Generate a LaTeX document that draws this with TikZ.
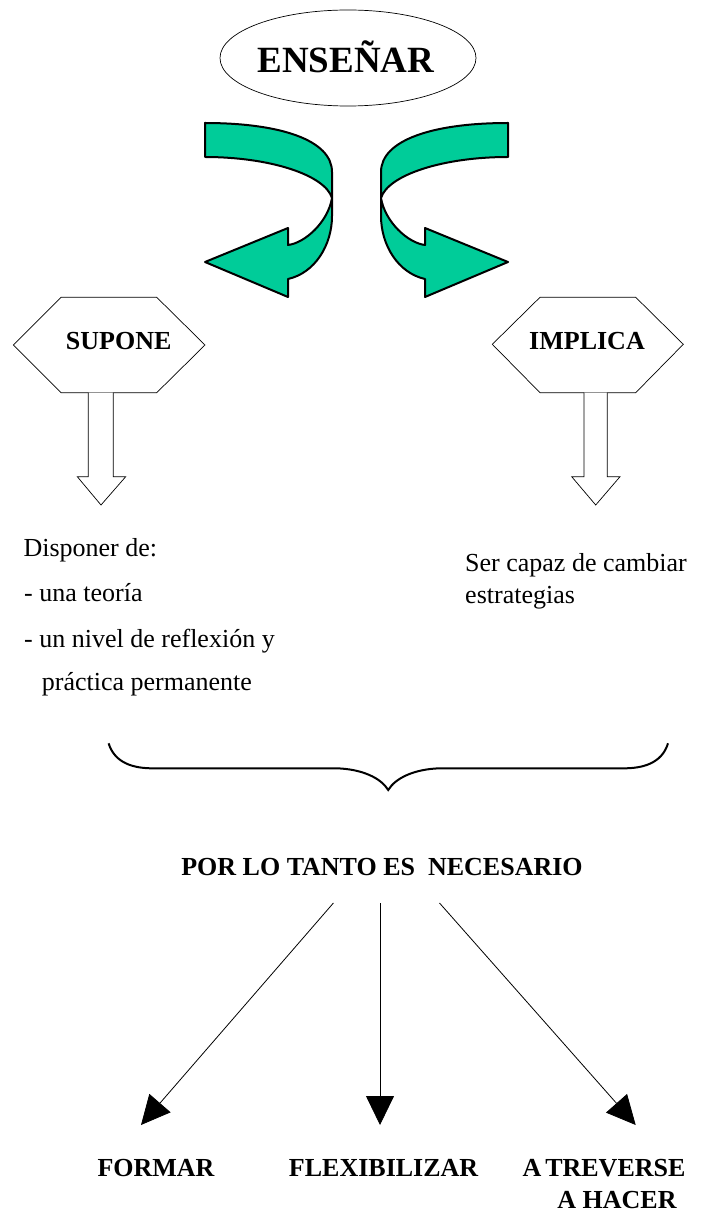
\documentclass[tikz,border=0pt]{standalone}
\usepackage{fontspec}
\setmainfont{Liberation Serif}
\usetikzlibrary{shapes.geometric,arrows.meta}
\definecolor{mint}{RGB}{0,204,153}
\newcommand\grarrowpath{(205,123) .. controls (280,123) and (332,140) .. (332,172)
  -- (332,216) .. controls (332,245) and (315,273) .. (288,279)
  -- (288,297) -- (205,262) -- (288,228) -- (288,245)
  .. controls (305,243) and (328,222) .. (332,198)
  .. controls (325,175) and (270,157) .. (205,157) -- cycle}
\begin{document}
\begin{tikzpicture}[x=1pt,y=-1pt,
  txt/.style={font=\fontsize{26}{30}\selectfont, inner sep=0pt},
  btxt/.style={font=\fontsize{26}{30}\selectfont\bfseries, inner sep=0pt},
  green arrow/.style={fill=mint, draw=black, line width=2pt, line join=round},
  hexa/.style={draw=black, line width=0.7pt},
  hollow/.style={draw=black, fill=white, line width=0.7pt},
  thin arrow/.style={line width=0.8pt, -{Triangle[length=29pt,width=28pt]}},
  brace/.style={line width=2pt}]
\useasboundingbox (0,0) rectangle (706,1214);
% top ellipse
\node[draw, ellipse, line width=0.7pt, minimum width=256pt, minimum height=96pt, inner sep=0pt] (ensbox) at (348,58) {};
\node[btxt, font=\fontsize{37}{40}\selectfont\bfseries, anchor=base] (ens) at (346,72.7) {ENSEÑAR};
% green curved arrows
\path[green arrow] \grarrowpath;
\begin{scope}[shift={(713,0)}, xscale=-1]
\path[green arrow] \grarrowpath;
\end{scope}
% hexagons
\draw[hexa] (13.3,345) -- (61,297.3) -- (156.7,297.3) -- (205,345) -- (156.7,392.7) -- (61,392.7) -- cycle;
\node[btxt, anchor=base] (supone) at (118.7,349.3) {SUPONE};
\draw[hexa] (492.3,344.3) -- (540,297.3) -- (635.7,297.3) -- (683.3,344.3) -- (635.7,392.7) -- (540,392.7) -- cycle;
\node[btxt, anchor=base] (implica) at (587,349.3) {IMPLICA};
% hollow arrows
\draw[hollow] (88.3,392.7) -- (88.3,476.7) -- (77.3,476.7) -- (101,505) -- (125.7,476.7) -- (113.3,476.7) -- (113.3,392.7);
\draw[hollow] (584,392.7) -- (584,476.7) -- (571.7,476.7) -- (595.7,505) -- (620,476.7) -- (607.3,476.7) -- (607.3,392.7);
% left text
\node[txt, anchor=base west] (l1) at (23.3,556.7) {Disponer de:};
\node[txt, anchor=base west] (l2) at (24,601.7) {- una teoría};
\node[txt, anchor=base west] (l3) at (24,647.3) {- un nivel de reflexión y};
\node[txt, anchor=base west] (l4) at (41.7,690) {práctica permanente};
% right text
\node[txt, anchor=base west] (r1) at (465,571.7) {Ser capaz de cambiar};
\node[txt, anchor=base west] (r2) at (465,603.3) {estrategias};
% brace
\draw[brace] (108.6,743.3) .. controls (115,764) and (135,768.3) .. (152.5,768.3)
  -- (336.4,768.3) .. controls (362,769) and (381,778) .. (388.2,790)
  .. controls (395.4,778) and (414.4,769) .. (440,768.3)
  -- (624,768.3) .. controls (641.5,768.3) and (661.8,764) .. (668,743.3);
% conclusion
\node[btxt, anchor=base] (por) at (382,875) {POR LO TANTO ES\ \ NECESARIO};
\coordinate (s1) at (333.4,903);
\coordinate (s2) at (380,903);
\coordinate (s3) at (439.5,903);
\coordinate (t1) at (141,1125);
\coordinate (t2) at (380,1125);
\coordinate (t3) at (635.7,1125);
\draw[thin arrow] (s1) -- (t1);
\draw[thin arrow] (s2) -- (t2);
\draw[thin arrow] (s3) -- (t3);
\node[btxt, anchor=base] (formar) at (156,1176.7) {FORMAR};
\node[btxt, anchor=base] (flex) at (383.6,1176.7) {FLEXIBILIZAR};
\node[btxt, anchor=base] (atr) at (604,1176.7) {A\kern4pt TREVERSE};
\node[btxt, anchor=base] (hacer) at (617,1208) {A HACER};
\end{tikzpicture}
\end{document}
